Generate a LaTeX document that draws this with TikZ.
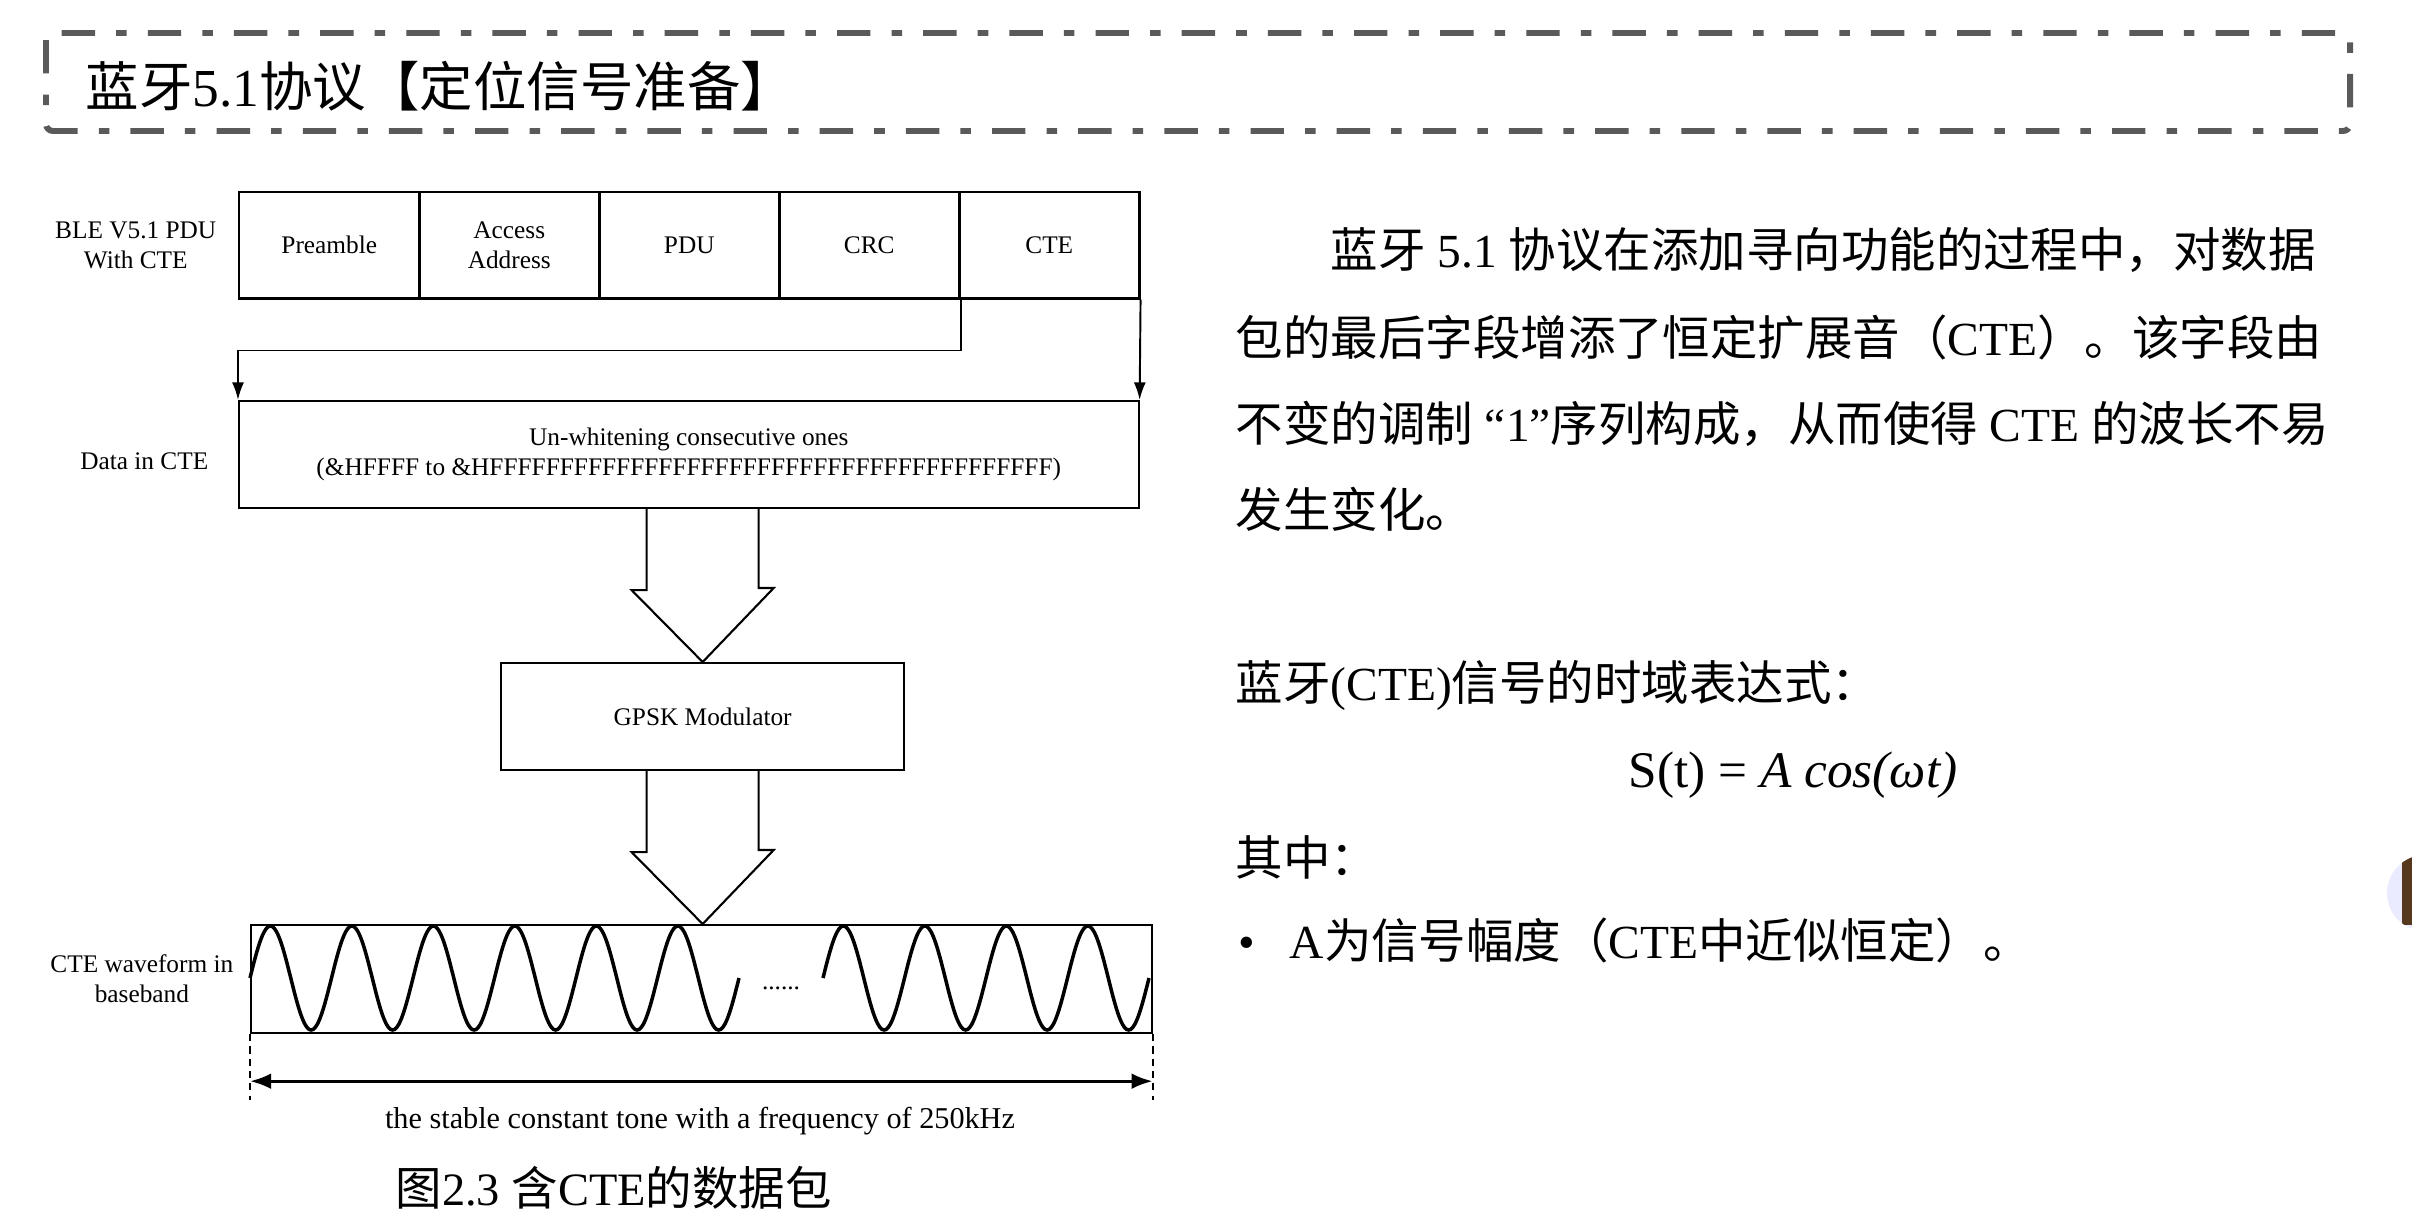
\documentclass[tikz,border=0pt]{standalone}
\usepackage{fontspec}
\setmainfont{Liberation Serif}
\newfontfamily\cjk{Noto Sans CJK SC}
\usetikzlibrary{arrows.meta, positioning, calc}

\definecolor{framegray}{HTML}{5A5A5A}
\newcommand{\diagfont}{\fontsize{7.2}{8.5}\selectfont}
\newcommand{\bodyfont}{\fontsize{13.5}{16}\selectfont}
\newcommand{\tenF}{FFFFFFFFFF}

\tikzset{
    cell/.style={draw, line width=0.7pt, minimum width=1.8cm, minimum height=1.06cm, inner sep=0pt, align=center, font=\diagfont},
    box/.style={draw, line width=0.6pt, inner sep=0pt, align=center, font=\diagfont},
    sidelabel/.style={inner sep=0pt, align=center, font=\diagfont},
    link/.style={line width=0.55pt, -{Latex[length=5pt, width=3.4pt]}},
    bigarrow/.style={line width=0.6pt, line join=miter},
    tone/.style={line width=1pt},
    span/.style={line width=0.9pt, {Latex[length=6pt, width=4.5pt]}-{Latex[length=6pt, width=4.5pt]}},
    frame/.style={draw=framegray, line width=1.7pt, rounded corners=2pt, dash pattern=on 9.5pt off 6pt on 3pt off 6pt},
    body/.style={inner sep=0pt, anchor=base west, font=\bodyfont},
}

\begin{document}
\begin{tikzpicture}[x=0.01cm, y=-0.01cm]
    \useasboundingbox (0,0) rectangle (2412,1218);
    \fill[white] (0,0) rectangle (2412,1218);

    % title bar
    \draw[frame] (46,33) rectangle (2350,131);
    \node[anchor=base west, inner sep=0pt, font=\fontsize{15.2}{17}\selectfont] (title) at (85,106) {{\cjk 蓝牙}5.1{\cjk 协议【定位信号准备】}};

    % packet fields
    \foreach \i/\nm/\txt in {0/pre/Preamble, 1/addr/{Access\\Address}, 2/pdu/PDU, 3/crc/CRC, 4/cte/CTE}
        \node[cell, anchor=north west] (\nm) at ({238+180*\i},191) {\txt};
    \node[sidelabel, left=0.21cm of pre] (pdulabel) {BLE V5.1 PDU\\With CTE};

    % data in CTE
    \node[box, anchor=north west, minimum width=8.99cm, minimum height=1.07cm] (data) at (238,400)
        {Un-whitening consecutive ones\\(\&HFFFF to \&H\tenF\tenF\tenF\tenF)};
    \node[sidelabel, left=0.29cm of data, yshift=-2pt] (datalabel) {Data in CTE};

    \draw[link] (crc.south east) -- ++(0,51) -| (data.north west);
    \draw[link] (cte.south east) -- (data.north east);

    % modulator
    \node[box, anchor=north west, minimum width=4.03cm, minimum height=1.07cm] (mod) at (500,662) {GPSK Modulator};
    \draw[bigarrow] (data.south -| mod.north) ++(-56,0) -- ++(0,81) -- ++(-15,0) -- (mod.north) -- ++(71,-74) -- ++(-15,0) -- ++(0,-81);

    % waveform
    \node[box, anchor=north west, minimum width=9cm, minimum height=1.08cm] (wave) at (250,924) {};
    \draw[bigarrow] (mod.south) ++(-56,0) -- ++(0,81) -- ++(-15,0) -- (wave.north -| mod.south) -- ++(71,-74) -- ++(-15,0) -- ++(0,-81);
    \node[sidelabel, left=0.16cm of wave] (wavelabel) {CTE waveform in\\baseband};
    \draw[tone] plot[domain=250:739, samples=241, smooth] (\x, {978-52*sin(4.4172*(\x-250))});
    \draw[tone] plot[domain=823:1149, samples=161, smooth] (\x, {978-52*sin(4.4172*(\x-823))});
    \node[font=\diagfont, inner sep=0pt, anchor=base] (gap) at (781,989) {......};

    % span of the tone
    \draw[line width=0.5pt, dash pattern=on 2pt off 1.5pt] (wave.south west) -- ++(0,66) coordinate (spanl);
    \draw[line width=0.5pt, dash pattern=on 2pt off 1.5pt] (wave.south east) -- ++(0,66) coordinate (spanr);
    \draw[span] ($(spanl)+(0,-19)$) -- ($(spanr)+(0,-19)$);
    \node[font=\fontsize{8.6}{10}\selectfont, inner sep=0pt, anchor=base] (spantext) at (700,1128) {the stable constant tone with a frequency of 250kHz};

    % caption
    \node[anchor=base west, inner sep=0pt, font=\fontsize{13.2}{15}\selectfont] (caption) at (395,1205) {{\cjk 图}2.3 {\cjk 含}CTE{\cjk 的数据包}};

    % right-hand text
    \node[body] (para1) at (1330,267) {{\cjk 蓝牙} 5.1 {\cjk 协议在添加寻向功能的过程中，对数据}};
    \node[body] (para2) at (1235,355) {{\cjk 包的最后字段增添了恒定扩展音（}CTE{\cjk ）。该字段由}};
    \node[body] (para3) at (1235,441) {{\cjk 不变的调制} “1”{\cjk 序列构成，从而使得} CTE {\cjk 的波长不易}};
    \node[body] (para4) at (1235,527) {{\cjk 发生变化。}};
    \node[body] (exprhead) at (1235,700) {{\cjk 蓝牙}(CTE){\cjk 信号的时域表达式：}};
    \node[body, anchor=base, font=\fontsize{14.6}{16}\selectfont] (formula) at (1793,787) {S(t) = \textit{A cos(ωt)}};
    \node[body] (where) at (1235,875) {{\cjk 其中：}};
    \node[body] (bullet) at (1238,958) {•};
    \node[body] (item) at (1289,958) {A{\cjk 为信号幅度（}CTE{\cjk 中近似恒定）。}};

    % avatar at the edge
    \begin{scope}
        \clip (2425,893) circle (38);
        \fill[blue!8] (2380,850) rectangle (2412,940);
        \fill[brown!45!black] (2402,850) rectangle (2412,925);
    \end{scope}
\end{tikzpicture}
\end{document}
